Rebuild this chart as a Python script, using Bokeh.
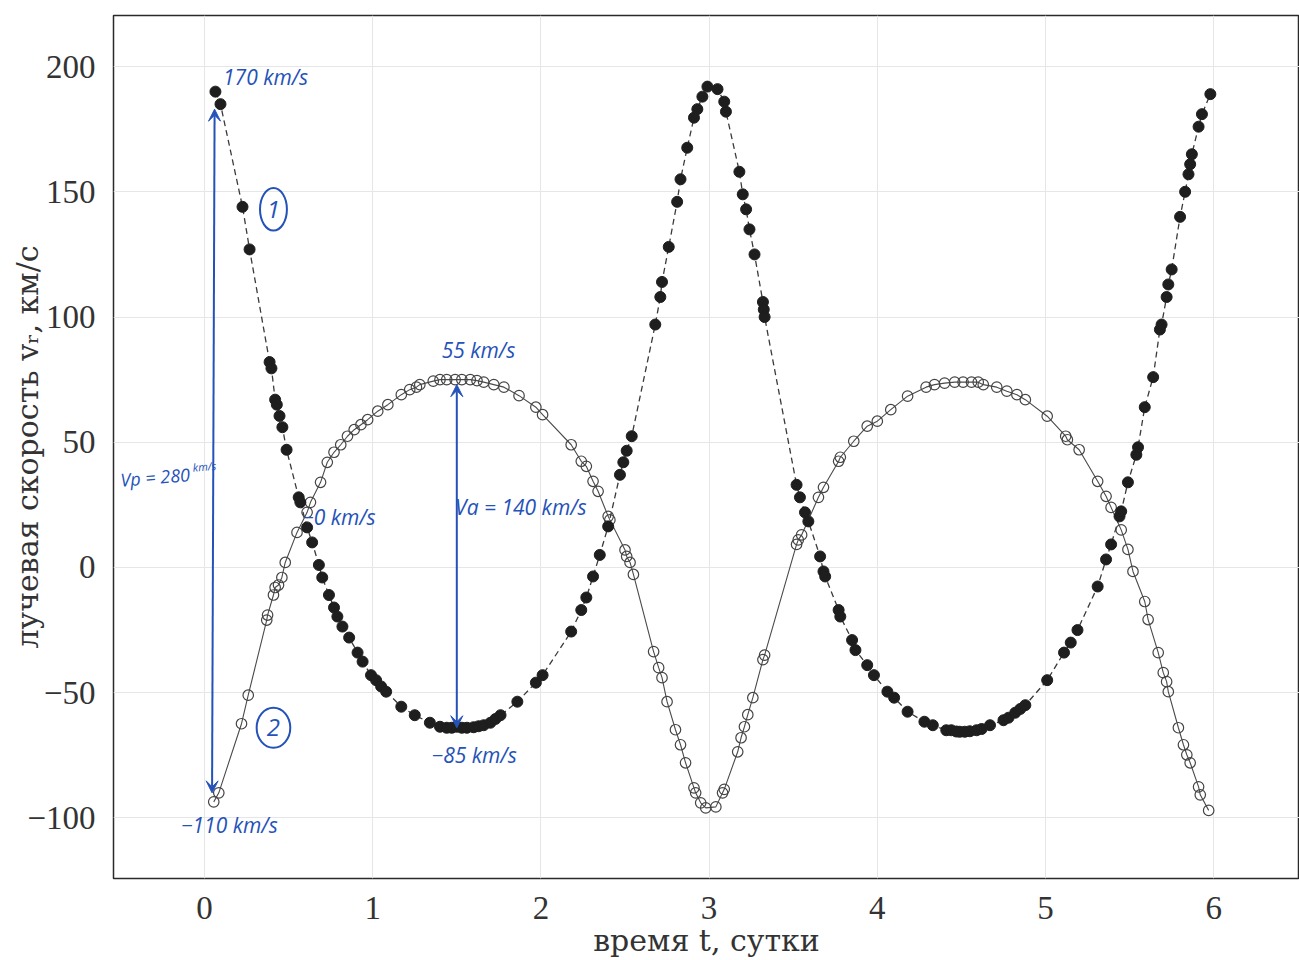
from bokeh.plotting import figure
from bokeh.models import Range1d, FixedTicker, CustomJSTickFormatter, Arrow, VeeHead
from bokeh.core.properties import value
from bokeh.embed import file_html
from bokeh.resources import INLINE

# ---------------- data ----------------
x_ticks = [0, 1, 2, 3, 4, 5, 6]
y_ticks = [-100, -50, 0, 50, 100, 150, 200]

# star 1 (filled dots, dashed curve): time [days], radial velocity [km/s]
t1 = [0.065, 0.095, 0.226, 0.268, 0.387, 0.398, 0.42, 0.43, 0.446, 0.463, 0.488,
      0.56, 0.57, 0.61, 0.64, 0.68, 0.70, 0.74, 0.77, 0.79, 0.82, 0.86, 0.91, 0.94, 0.99,
      1.02, 1.05, 1.08, 1.17, 1.25, 1.34, 1.40, 1.44, 1.47, 1.50, 1.53, 1.56, 1.60, 1.63,
      1.66, 1.70, 1.73, 1.76, 1.86, 1.97, 2.01, 2.18, 2.24, 2.27, 2.31, 2.35, 2.40,
      2.47, 2.49, 2.51, 2.54, 2.68, 2.71, 2.72, 2.76, 2.81, 2.83, 2.87, 2.91, 2.93,
      2.96, 2.99, 3.05, 3.09, 3.10, 3.18, 3.20, 3.22, 3.24, 3.27, 3.32, 3.325, 3.33,
      3.52, 3.54, 3.57, 3.59, 3.66, 3.68, 3.69, 3.77, 3.78, 3.85, 3.87, 3.94, 3.98,
      4.06, 4.10, 4.18, 4.28, 4.33, 4.41, 4.44, 4.47, 4.49, 4.52, 4.55, 4.59, 4.62,
      4.67, 4.75, 4.78, 4.82, 4.85, 4.88, 5.01, 5.11, 5.15, 5.19, 5.31, 5.36, 5.39,
      5.44, 5.45, 5.49, 5.54, 5.55, 5.59, 5.64, 5.68, 5.69, 5.72, 5.73, 5.75, 5.80,
      5.83, 5.85, 5.86, 5.87, 5.91, 5.93, 5.98]
v1 = [190, 185, 144, 127, 82, 79.5, 67, 65, 60.5, 56, 47,
      28, 26, 16, 10, 1, -4, -11, -16, -19.6, -23.6, -28, -34, -37.6, -43,
      -45, -47.5, -49.6, -55.6, -59, -62, -63.6, -64, -64, -63.6, -64, -64, -63.8, -63.4,
      -63, -62, -60.5, -59, -53.6, -46, -43, -25.6, -17, -12, -3.6, 5, 16.4,
      37, 42, 46.6, 52.4, 97, 108, 114, 128, 146, 155, 167.6, 179.6, 183,
      188, 192, 191, 186, 182, 158, 149, 143, 135, 125, 106, 103, 100,
      33, 28, 22, 18.4, 4.4, -1.6, -3.6, -17, -19.6, -29, -33, -39, -43,
      -49.6, -52, -57.6, -61.6, -63, -65, -65, -65.5, -65.6, -65.6, -65.4, -65, -64.5,
      -63, -61, -60, -58, -56.5, -55, -45, -34, -30, -25, -7.6, 3.2, 9.2,
      20.4, 22.4, 34, 45, 48, 64, 76, 95, 97, 108, 113, 119, 140,
      150, 157, 161, 165, 176, 181, 189]

# star 2 (open circles, solid curve)
t2 = [0.055, 0.085, 0.22, 0.26, 0.37, 0.375, 0.41, 0.42, 0.44, 0.46, 0.48, 0.55,
      0.61, 0.63, 0.69, 0.73, 0.77, 0.81, 0.85, 0.89, 0.93, 0.97, 1.03, 1.09,
      1.17, 1.22, 1.26, 1.28, 1.36, 1.40, 1.44, 1.49, 1.53, 1.58, 1.62, 1.66,
      1.72, 1.78, 1.87, 1.97, 2.01, 2.18, 2.24, 2.27, 2.31, 2.34, 2.40, 2.41,
      2.50, 2.51, 2.53, 2.55, 2.67, 2.70, 2.72, 2.75, 2.80, 2.83, 2.86, 2.91,
      2.92, 2.95, 2.98, 3.04, 3.08, 3.09, 3.17, 3.19, 3.21, 3.23, 3.26, 3.32,
      3.33, 3.52, 3.53, 3.55, 3.65, 3.68, 3.77, 3.78, 3.86, 3.94, 4.00, 4.08,
      4.18, 4.29, 4.34, 4.40, 4.46, 4.51, 4.56, 4.60, 4.63, 4.71, 4.77, 4.83,
      4.88, 5.01, 5.12, 5.13, 5.20, 5.31, 5.36, 5.39, 5.45, 5.49, 5.52, 5.59,
      5.61, 5.67, 5.70, 5.72, 5.73, 5.79, 5.82, 5.84, 5.86, 5.91, 5.92, 5.97]
v2 = [-93.6, -90, -62.4, -51, -21, -19, -11, -8, -7, -4, 2, 14,
      22, 26, 34, 42, 46, 49, 52.4, 55, 57, 59, 62.4, 65,
      69, 71, 72, 73, 74.4, 75, 75, 75, 75, 75, 74.6, 74,
      73, 72, 68.6, 64, 61, 49, 42.4, 40.4, 34.4, 30.4, 20.4, 19,
      7, 4.4, 2, -2.8, -33.6, -40, -44, -53.6, -64.8, -70.8, -78, -88,
      -90, -94, -96, -95.6, -90, -88.6, -73.6, -68, -63.6, -58.8, -52, -36.8,
      -35, 9.2, 11, 13, 28, 32, 42.4, 44, 50.4, 56.4, 58.4, 63,
      68.4, 72, 73, 73.6, 74, 74, 74, 74, 73, 72, 70.4, 69,
      67, 60.4, 52.4, 51, 47, 34.4, 28.4, 24, 15, 7.2, -1.6, -13.6,
      -20.8, -34, -42, -45.6, -49.6, -64, -70.8, -74.8, -78, -87.6, -90.8, -97]

# handwritten notes
note_texts = ["170 km/s", "−0 km/s", "−110 km/s", "55 km/s", "Va = 140 km/s", "−85 km/s"]
vp_text = ["Vp = 280"]
vp_unit = ["km/s"]
circled = ["1", "2"]

# ---------------- figure ----------------
p = figure(width=1299, height=960,
           x_range=Range1d(-0.541, 6.51), y_range=Range1d(-124.2, 220.4),
           output_backend="svg", toolbar_location=None,
           min_border_left=113, min_border_top=15, min_border_right=0,
           min_border_bottom=82)
p.background_fill_color = "white"
p.border_fill_color = "white"
p.outline_line_color = "#2a2a2a"
p.outline_line_width = 1.5

p.xaxis.ticker = FixedTicker(ticks=x_ticks)
p.yaxis.ticker = FixedTicker(ticks=y_ticks)
fmt = CustomJSTickFormatter(code="return tick < 0 ? '\u2212' + Math.abs(tick) : String(tick);")
p.yaxis.formatter = fmt
p.xaxis.formatter = fmt
p.axis.axis_line_color = None
p.axis.major_tick_line_color = None
p.axis.minor_tick_line_color = None
p.axis.major_label_text_font = "Liberation Serif"
p.axis.major_label_text_font_size = "33px"
p.axis.major_label_text_color = "#333333"
p.axis.major_label_standoff = 12
p.xaxis.axis_label = "время t, сутки"
p.yaxis.axis_label = "лучевая скорость vᵣ, км/с"
p.axis.axis_label_text_font = "DejaVu Serif"
p.axis.axis_label_text_font_style = "normal"
p.axis.axis_label_text_font_size = "30px"
p.axis.axis_label_text_color = "#333333"
p.yaxis.axis_label_standoff = -21
p.xaxis.axis_label_standoff = 1
p.grid.grid_line_color = "#e6e6e6"
p.grid.grid_line_width = 1

# curves and measurements
p.line(t1, v1, line_dash="6 4", line_color="#3a3a3a", line_width=1.3)
p.line(t2, v2, line_color="#4a4a4a", line_width=1.1)
p.scatter(t2, v2, size=10.5, fill_color=None, line_color="#444444", line_width=1.2)
p.scatter(t1, v1, size=11, fill_color="#1e1e1e", line_color="#1e1e1e")

# ---------------- handwritten annotations ----------------
blue = "#2452b8"
hand = dict(text_color=blue, text_font=value("Open Sans"), text_font_style="italic",
            text_baseline="middle", text_align="left")

p.add_layout(Arrow(start=VeeHead(size=12, line_color=blue, fill_color=blue),
                   end=VeeHead(size=12, line_color=blue, fill_color=blue),
                   x_start=0.045, y_start=-90, x_end=0.06, y_end=183,
                   line_color=blue, line_width=2))
p.add_layout(Arrow(start=VeeHead(size=12, line_color=blue, fill_color=blue),
                   end=VeeHead(size=12, line_color=blue, fill_color=blue),
                   x_start=1.5, y_start=-64, x_end=1.5, y_end=73,
                   line_color=blue, line_width=2))

p.text(x=[0.11, 0.58, -0.14, 1.41, 1.49, 1.35],
       y=[196, 20, -103, 87, 24, -75],
       text=note_texts, text_font_size="21px", **hand)
p.text(x=[-0.5], y=[35], text=vp_text, text_font_size="18px", angle=0.08, **hand)
p.text(x=[-0.07], y=[40], text=vp_unit, text_font_size="11px", angle=0.08, **hand)

p.ellipse(x=[0.41, 0.41], y=[143, -64], width=[0.16, 0.2], height=[17, 16],
          fill_color=None, line_color=blue, line_width=2)
p.text(x=[0.41, 0.41], y=[143, -64], text=circled, text_color=blue,
       text_font=value("Open Sans"), text_font_style="italic", text_font_size="24px",
       text_align="center", text_baseline="middle")

open("out.html", "w").write(file_html(p, INLINE))
